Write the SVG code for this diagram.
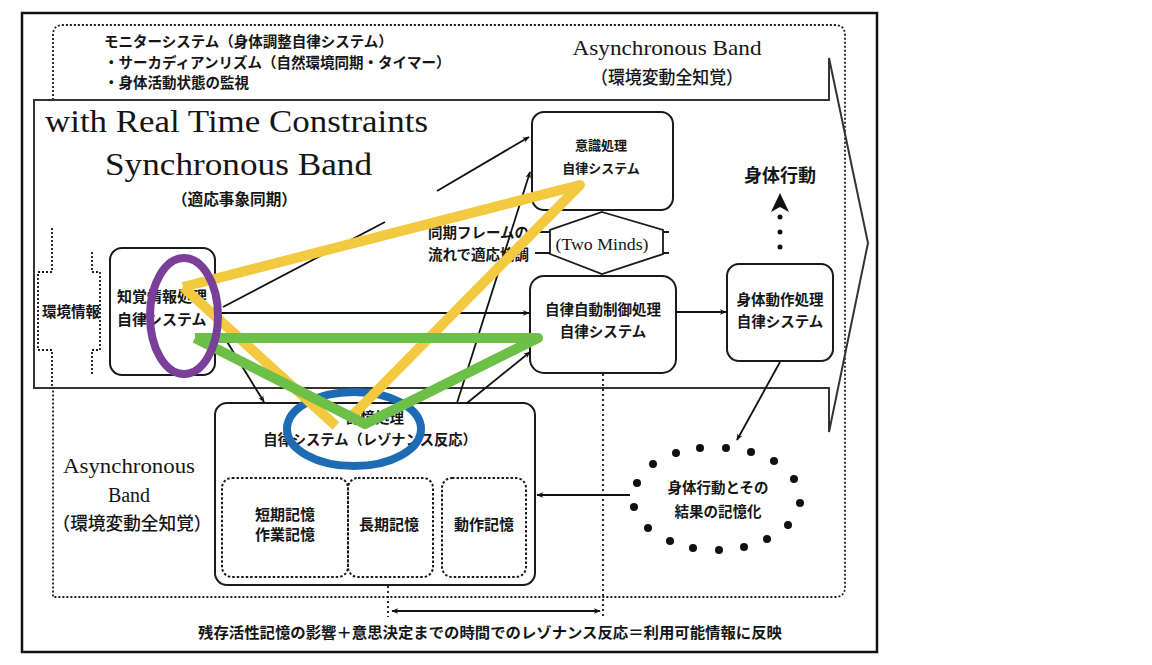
<svg xmlns="http://www.w3.org/2000/svg" width="1152" height="665" viewBox="0 0 1152 665">
<defs>
<style>
.jp{font-family:"Noto Sans CJK JP","Noto Sans CJK SC",sans-serif;font-weight:bold;fill:#151515}
.jp.m{font-weight:500}
.en{font-family:"Liberation Serif","DejaVu Serif",serif;fill:#151515}
.box{fill:#fff;stroke:#1a1a1a;stroke-width:2}
.dot{fill:none;stroke:#1a1a1a;stroke-width:1.8;stroke-dasharray:2 2}
.dbox{fill:none;stroke:#1a1a1a;stroke-width:2;stroke-dasharray:2.5 2}
.con{fill:none;stroke:#111;stroke-width:1.8}
.hl{fill:none;stroke-linejoin:round;stroke-linecap:butt}
</style>
<marker id="ah" viewBox="0 0 10 10" refX="9" refY="5" markerWidth="7" markerHeight="7" orient="auto-start-reverse" markerUnits="userSpaceOnUse">
<path d="M0,1 L10,5 L0,9 L3,5 z" fill="#111"/>
</marker>
</defs>
<rect width="1152" height="665" fill="#fff"/>
<rect x="22" y="13" width="855" height="639" fill="none" stroke="#111" stroke-width="2.5"/>

<g id="async-band">
<path class="dot" d="M53,100 L53,35 Q53,25 63,25 L835,25 Q845,25 845,35 L845,587 Q845,597 835,597 L53,597 L53,388"/>
<text class="jp" x="104" y="47" font-size="14.5">モニターシステム（身体調整自律システム）</text>
<text class="jp" x="104" y="68" font-size="14.5">・サーカディアンリズム（自然環境同期・タイマー）</text>
<text class="jp" x="104" y="88" font-size="14.5">・身体活動状態の監視</text>
<text class="en" x="667" y="55" font-size="21" text-anchor="middle" textLength="189" lengthAdjust="spacingAndGlyphs">Asynchronous Band</text>
<text class="jp m" x="667" y="84" font-size="18" text-anchor="middle" textLength="152" lengthAdjust="spacingAndGlyphs">（環境変動全知覚）</text>
<text class="en" x="129" y="473" font-size="20" text-anchor="middle" textLength="132" lengthAdjust="spacingAndGlyphs">Asynchronous</text>
<text class="en" x="129" y="502" font-size="20" text-anchor="middle">Band</text>
<text class="jp m" x="132" y="530" font-size="18" text-anchor="middle" textLength="159" lengthAdjust="spacingAndGlyphs">（環境変動全知覚）</text>
</g>

<g id="sync-band">
<path d="M34,100 L829,100 L829,58 L868,243 L829,432 L829,388 L34,388 Z" fill="none" stroke="#333" stroke-width="2"/>
<text class="en" x="45" y="132" font-size="31" textLength="383" lengthAdjust="spacingAndGlyphs">with Real Time Constraints</text>
<text class="en" x="105" y="175" font-size="31" textLength="267" lengthAdjust="spacingAndGlyphs">Synchronous Band</text>
<text class="jp" x="172" y="205" font-size="15.5" textLength="125" lengthAdjust="spacingAndGlyphs">（適応事象同期）</text>
</g>

<g id="env-info">
<path class="dot" d="M52,228 L52,272 L38,272 L38,350 L52,350 L52,388 M92,252 L92,272 L100,272 L100,350 L92,350 L92,376"/>
<text class="jp" x="42" y="317" font-size="14.5">環境情報</text>
</g>

<g id="node-perception">
<rect class="box" x="110" y="248" width="105" height="127" rx="12"/>
<text class="jp" x="117" y="302" font-size="15">知覚情報処理</text>
<text class="jp" x="117" y="325" font-size="15">自律システム</text>
</g>

<g id="node-conscious">
<rect class="box" x="532" y="112" width="141" height="98" rx="12"/>
<text class="jp" x="601" y="150" font-size="13" text-anchor="middle">意識処理</text>
<text class="jp" x="601" y="173" font-size="13" text-anchor="middle">自律システム</text>
</g>

<g id="node-twominds">
<path d="M602,212 L663,230 L663,254 L602,274 L550,254 L550,230 Z" fill="#fff" stroke="#1a1a1a" stroke-width="1.8"/>
<path d="M535,232 L550,232 M535,253 L550,253 M663,232 L669,232 M663,253 L669,253" stroke="#1a1a1a" stroke-width="1.8"/>
<text class="en" x="602" y="250" font-size="16" text-anchor="middle" textLength="93" lengthAdjust="spacingAndGlyphs">(Two Minds)</text>
<text class="jp" x="428" y="238" font-size="14.5">同期フレームの</text>
<text class="jp" x="428" y="260" font-size="14.5">流れで適応協調</text>
</g>

<g id="node-autocontrol">
<rect class="box" x="530" y="276" width="146" height="97" rx="14"/>
<text class="jp" x="603" y="315" font-size="14.5" text-anchor="middle">自律自動制御処理</text>
<text class="jp" x="603" y="337" font-size="14.5" text-anchor="middle">自律システム</text>
</g>

<g id="node-motion">
<rect class="box" x="727" y="264" width="106" height="97" rx="12"/>
<text class="jp" x="780" y="305" font-size="14.5" text-anchor="middle">身体動作処理</text>
<text class="jp" x="780" y="327" font-size="14.5" text-anchor="middle">自律システム</text>
</g>

<g id="node-action">
<text class="jp" x="780" y="182" font-size="18" text-anchor="middle">身体行動</text>
</g>

<g id="node-memory">
<rect class="box" x="215" y="403" width="320" height="182" rx="12"/>
<text class="jp" x="375" y="423" font-size="14.5" text-anchor="middle">記憶処理</text>
<text class="jp" x="370" y="445" font-size="14.3" text-anchor="middle">自律システム（レゾナンス反応）</text>
<rect class="dbox" x="222" y="478" width="126" height="99" rx="10"/>
<rect class="dbox" x="348" y="478" width="85" height="99" rx="10"/>
<rect class="dbox" x="442" y="478" width="84" height="99" rx="10"/>
<text class="jp" x="285" y="520" font-size="15" text-anchor="middle">短期記憶</text>
<text class="jp" x="285" y="540" font-size="15" text-anchor="middle">作業記憶</text>
<text class="jp" x="389" y="530" font-size="15" text-anchor="middle">長期記憶</text>
<text class="jp" x="484" y="530" font-size="15" text-anchor="middle">動作記憶</text>
</g>

<g id="node-memorize" fill="#111">
<circle cx="700" cy="448" r="4"/><circle cx="726" cy="448" r="4"/><circle cx="751" cy="452" r="4"/>
<circle cx="774" cy="461" r="4"/><circle cx="794" cy="479" r="4"/><circle cx="800" cy="503" r="4"/>
<circle cx="788" cy="525" r="4"/><circle cx="767" cy="539" r="4"/><circle cx="744" cy="547" r="4"/>
<circle cx="719" cy="550" r="4"/><circle cx="693" cy="548" r="4"/><circle cx="670" cy="541" r="4"/>
<circle cx="648" cy="528" r="4"/><circle cx="634" cy="507" r="4"/><circle cx="637" cy="483" r="4"/>
<circle cx="653" cy="464" r="4"/><circle cx="676" cy="453" r="4"/>
<text class="jp" x="718" y="493" font-size="14.5" text-anchor="middle">身体行動とその</text>
<text class="jp" x="718" y="517" font-size="14.5" text-anchor="middle">結果の記憶化</text>
</g>

<g id="connectors">
<path class="con" d="M223,307 L385,222 M437,191 L529,137" marker-end="url(#ah)"/>
<path class="con" d="M215,313 L529,313" marker-end="url(#ah)"/>
<path class="con" d="M226,340 L264,402" marker-end="url(#ah)"/>
<path class="con" d="M457,403 L530,172" marker-end="url(#ah)"/>
<path class="con" d="M467,403 L530,352" marker-end="url(#ah)"/>
<path class="con" d="M676,312 L726,312" marker-end="url(#ah)"/>
<path class="con" d="M780,362 L737,440" marker-end="url(#ah)"/>
<path class="con" d="M630,495 L537,495" marker-end="url(#ah)"/>
<g fill="#111"><circle cx="780" cy="217" r="2.5"/><circle cx="780" cy="232" r="2.5"/><circle cx="780" cy="247" r="2.5"/></g>
<path d="M780,193 L789,212 L780,207 L771,212 Z" fill="#111"/>
<path d="M603,374 L603,617 M388,586 L388,617" fill="none" stroke="#111" stroke-width="1.8" stroke-dasharray="2 3"/>
<path class="con" d="M392,611 L600,611" marker-start="url(#ah)" marker-end="url(#ah)"/>
</g>

<text class="jp" x="490" y="638" font-size="15" text-anchor="middle" textLength="584" lengthAdjust="spacingAndGlyphs">残存活性記憶の影響＋意思決定までの時間でのレゾナンス反応＝利用可能情報に反映</text>

<g id="highlights">
<ellipse cx="354" cy="429" rx="67" ry="37" class="hl" stroke="#1E6BB5" stroke-width="8"/>
<path class="hl" d="M183,287 L580,185 L352,416 M183,287 L336,426" stroke="#F3C93F" stroke-width="10"/>
<path class="hl" d="M195,338 L538,338 L365,424 L195,338" stroke="#6CBF47" stroke-width="10"/>
<ellipse cx="184" cy="316" rx="34" ry="58" class="hl" stroke="#7A3F98" stroke-width="8"/>
</g>
</svg>
